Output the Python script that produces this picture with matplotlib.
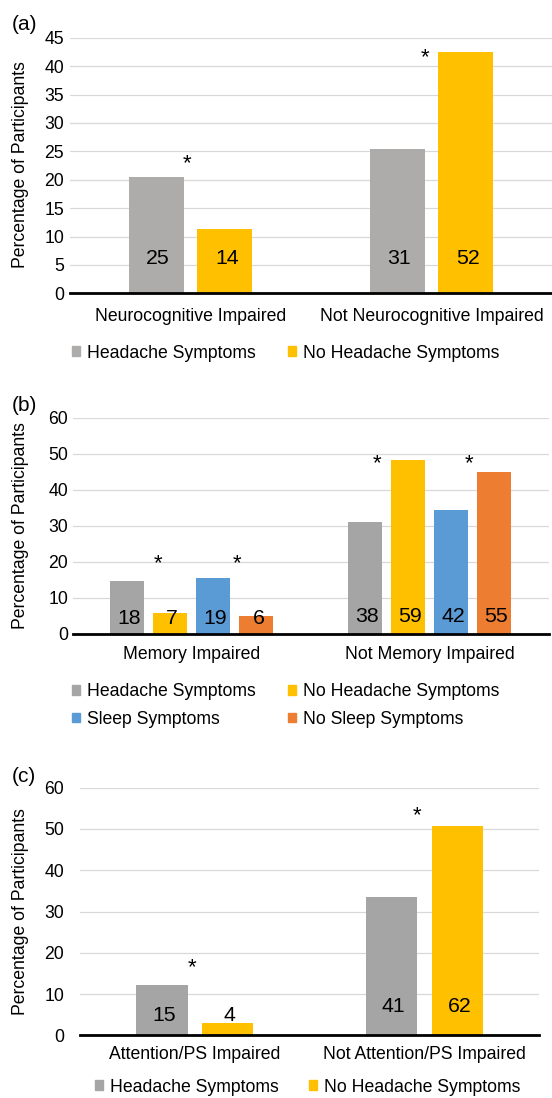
import matplotlib
matplotlib.use("Agg")
import matplotlib.pyplot as plt
from matplotlib.patches import Patch

plt.rcParams['font.family'] = ['Liberation Sans', 'DejaVu Sans']

# ---------------- data ----------------
cats_a = ['Neurocognitive Impaired', 'Not Neurocognitive Impaired']
a_headache = [20.4, 25.4]
a_no_headache = [11.4, 42.5]
a_n_headache = [25, 31]
a_n_no_headache = [14, 52]
a_star_x = [-0.016, -0.027]
a_star_y = [23.8, 42.5]

cats_b = ['Memory Impaired', 'Not Memory Impaired']
b_headache = [14.8, 31.1]
b_no_headache = [5.7, 48.3]
b_sleep = [15.6, 34.3]
b_no_sleep = [5.0, 45.0]
b_n_headache = [18, 38]
b_n_no_headache = [7, 59]
b_n_sleep = [19, 42]
b_n_no_sleep = [6, 55]
b_star_x = [-0.14, 0.19, -0.223, 0.164]
b_star_y = [21, 21, 48.9, 48.9]

cats_c = ['Attention/PS Impaired', 'Not Attention/PS Impaired']
c_headache = [12.1, 33.4]
c_no_headache = [3.1, 50.6]
c_n_headache = [15, 41]
c_n_no_headache = [4, 62]
c_star_x = [-0.011, -0.034]
c_star_y = [17.7, 54.6]

lab_headache = 'Headache Symptoms'
lab_no_headache = 'No Headache Symptoms'
lab_sleep = 'Sleep Symptoms'
lab_no_sleep = 'No Sleep Symptoms'

# ---------------- style ----------------
GRAY_A = '#AEABAB'
GRAY = '#A5A5A5'
YELLOW = '#FFC000'
BLUE = '#5B9BD5'
ORANGE = '#ED7D31'
FS = 12.7

W, H, DPI = 552, 1098, 100
fig = plt.figure(figsize=(W / DPI, H / DPI), dpi=DPI)


def px_axes(left, right, top, bottom):
    return fig.add_axes([left / W, 1 - bottom / H, (right - left) / W, (bottom - top) / H])


def panel(ax, cats, series, width, pitch, ymax, ystep, ypad, xpad, label_px,
          star_x, star_y, letter, letter_y, ylab_y):
    n = len(series)
    xs = list(range(len(cats)))
    for i, (vals, counts, color, lab) in enumerate(series):
        off = (i - (n - 1) / 2) * pitch
        pos = [x + off for x in xs]
        ax.bar(pos, vals, width=width, color=color, label=lab, zorder=3)
        for j, (p, c) in enumerate(zip(pos, counts)):
            ax.annotate(str(c), xy=(p, 0), xytext=(1.5, label_px[j] * 0.72),
                        textcoords='offset points', ha='center', va='center',
                        fontsize=15.3, zorder=4)
    star_cat = [0, 0, 1, 1] if len(star_x) == 4 else [0, 1]
    for sx, sy, x in zip(star_x, star_y, star_cat):
        ax.annotate('*', xy=(x + sx, sy), xytext=(0, -4), textcoords='offset points',
                    ha='center', va='center', fontsize=16, zorder=4)
    ax.set_xlim(-0.5, len(cats) - 0.5)
    ax.set_ylim(0, ymax)
    ax.set_yticks(range(0, ymax + 1, ystep))
    ax.set_xticks(xs)
    ax.set_xticklabels(cats)
    ax.tick_params(axis='y', length=0, pad=ypad, labelsize=FS)
    ax.tick_params(axis='x', length=0, pad=xpad, labelsize=FS)
    ax.grid(axis='y', color='#D9D9D9', linewidth=0.9, zorder=0)
    ax.set_axisbelow(True)
    for s in ['top', 'right', 'left']:
        ax.spines[s].set_visible(False)
    ax.spines['bottom'].set_linewidth(2.0)
    ax.spines['bottom'].set_color('black')
    ax.spines['bottom'].set_zorder(5)
    ax.set_ylabel('Percentage of Participants', fontsize=FS)
    ax.yaxis.set_label_coords(29 / W, 1 - ylab_y / H, transform=fig.transFigure)
    fig.text(12 / W, 1 - letter_y / H, letter, ha='left', va='center', fontsize=15)


def legend(handles, x_px, y_px, ncol, colsp):
    fig.legend(handles=handles, loc='center left', bbox_to_anchor=(x_px / W, 1 - y_px / H),
               ncol=ncol, frameon=False, fontsize=FS, handlelength=0.45, handleheight=0.45,
               handletextpad=0.4, columnspacing=colsp, borderpad=0, borderaxespad=0,
               labelspacing=0.6)


# Panel (a)
ax_a = px_axes(70, 552, 37.7, 293.3)
panel(ax_a, cats_a,
      [(a_headache, a_n_headache, GRAY_A, lab_headache),
       (a_no_headache, a_n_no_headache, YELLOW, lab_no_headache)],
      0.228, 0.286, 45, 5, 4.3, 10.8, [35, 35], a_star_x, a_star_y, '(a)', 25, 165)
legend([Patch(color=GRAY_A, label=lab_headache), Patch(color=YELLOW, label=lab_no_headache)],
       72, 353, 2, 1.85)

# Panel (b)
ax_b = px_axes(72.7, 548.7, 417.7, 634)
panel(ax_b, cats_b,
      [(b_headache, b_n_headache, GRAY, lab_headache),
       (b_no_headache, b_n_no_headache, YELLOW, lab_no_headache),
       (b_sleep, b_n_sleep, BLUE, lab_sleep),
       (b_no_sleep, b_n_no_sleep, ORANGE, lab_no_sleep)],
      0.143, 0.181, 60, 10, 3.2, 8.6, [15, 17], b_star_x, b_star_y, '(b)', 405, 526)
legend([Patch(color=GRAY, label=lab_headache), Patch(color=BLUE, label=lab_sleep),
        Patch(color=YELLOW, label=lab_no_headache), Patch(color=ORANGE, label=lab_no_sleep)],
       72, 705.5, 2, 1.85)

# Panel (c)
ax_c = px_axes(80, 539.3, 787.7, 1035.3)
panel(ax_c, cats_c,
      [(c_headache, c_n_headache, GRAY, lab_headache),
       (c_no_headache, c_n_no_headache, YELLOW, lab_no_headache)],
      0.223, 0.286, 60, 10, 11.5, 7.7, [20, 28.6], c_star_x, c_star_y, '(c)', 776, 912)
legend([Patch(color=GRAY, label=lab_headache), Patch(color=YELLOW, label=lab_no_headache)],
       95, 1087, 2, 1.7)

fig.savefig('out.png', dpi=DPI)
